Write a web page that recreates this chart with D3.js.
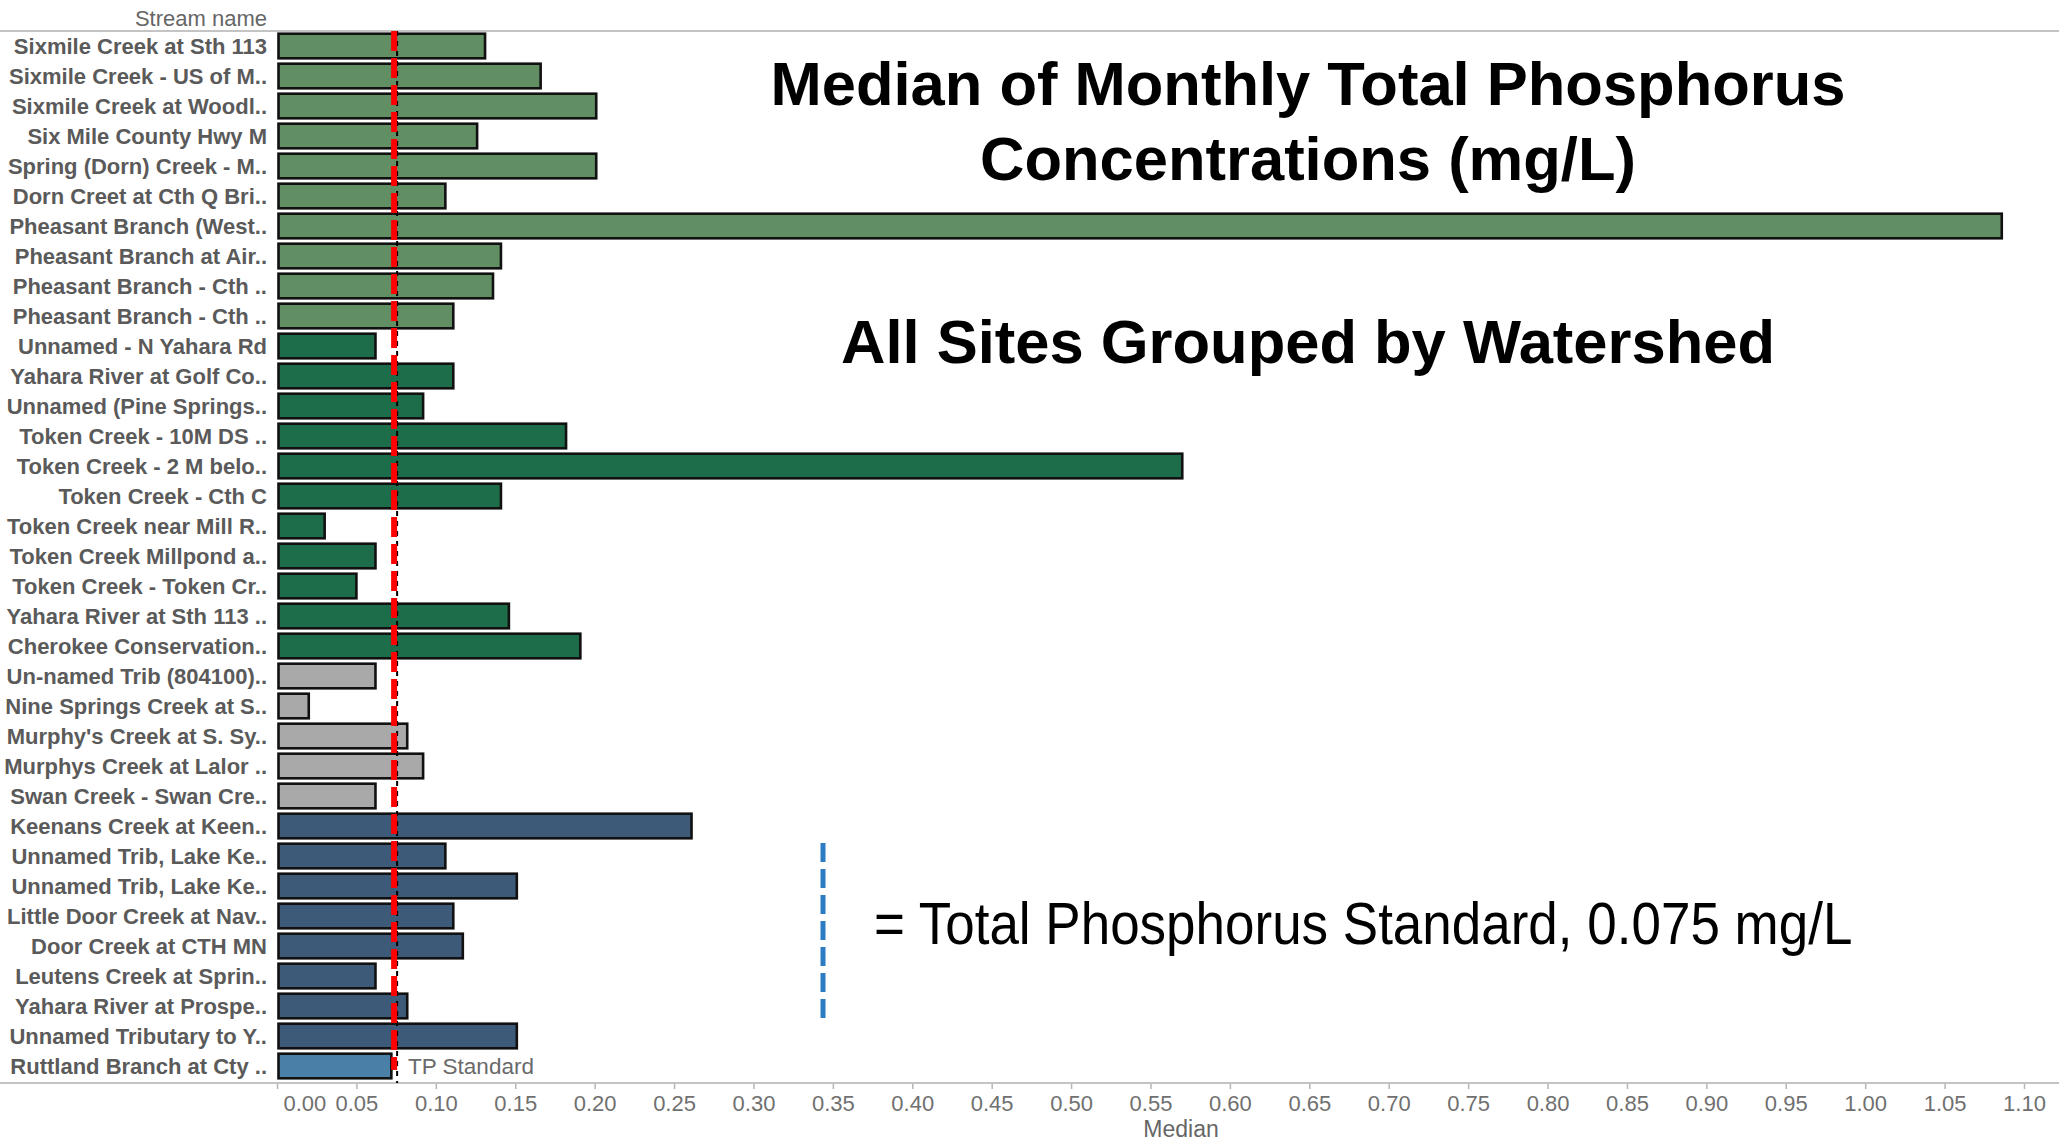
<!DOCTYPE html>
<html>
<head>
<meta charset="utf-8">
<script src="https://cdn.jsdelivr.net/npm/d3@7"></script>
<style>
  html, body { margin: 0; padding: 0; background: #fff; }
  svg { display: block; }
  text { font-family: "Liberation Sans", Arial, sans-serif; }
</style>
</head>
<body>
<svg id="chart" width="2059" height="1143"></svg>
<script>
// ---- data ----
const streams = [
  "Sixmile Creek at Sth 113", "Sixmile Creek - US of M..", "Sixmile Creek at Woodl..",
  "Six Mile County Hwy M", "Spring (Dorn) Creek - M..", "Dorn Creet at Cth Q Bri..",
  "Pheasant Branch (West..", "Pheasant Branch at Air..", "Pheasant Branch - Cth ..",
  "Pheasant Branch - Cth .. ", "Unnamed - N Yahara Rd", "Yahara River at Golf Co..",
  "Unnamed (Pine Springs..", "Token Creek - 10M DS ..", "Token Creek - 2 M belo..",
  "Token Creek - Cth C", "Token Creek near Mill R..", "Token Creek Millpond a..",
  "Token Creek - Token Cr..", "Yahara River at Sth 113 ..", "Cherokee Conservation..",
  "Un-named Trib (804100)..", "Nine Springs Creek at S..", "Murphy's Creek at S. Sy..",
  "Murphys Creek at Lalor ..", "Swan Creek - Swan Cre..", "Keenans Creek at Keen..",
  "Unnamed Trib, Lake Ke..", "Unnamed Trib, Lake Ke.. ", "Little Door Creek at Nav..",
  "Door Creek at CTH MN", "Leutens Creek at Sprin..", "Yahara River at Prospe..",
  "Unnamed Tributary to Y..", "Ruttland Branch at Cty .."
];
const watershed = [
  0,0,0,0,0,0,0,0,0,0,
  1,1,1,1,1,1,1,1,1,1,1,
  2,2,2,2,2,
  3,3,3,3,3,3,3,3,
  4
];
const medians = [
  0.131, 0.166, 0.201, 0.126, 0.201, 0.106, 1.086, 0.141, 0.136, 0.111,
  0.062, 0.111, 0.092, 0.182, 0.570, 0.141, 0.030, 0.062, 0.050, 0.146, 0.191,
  0.062, 0.020, 0.082, 0.092, 0.062,
  0.261, 0.106, 0.151, 0.111, 0.117, 0.062, 0.082, 0.151,
  0.072
];
const watershedColors = ["#628e64", "#1e6d4a", "#a9a9a9", "#3e5a79", "#4a7fa8"];
const tickValues = [0,0.05,0.1,0.15,0.2,0.25,0.3,0.35,0.4,0.45,0.5,0.55,0.6,0.65,0.7,0.75,0.8,0.85,0.9,0.95,1.0,1.05,1.1];
const tpStandard = 0.075;
const titleLines = ["Median of Monthly Total Phosphorus", "Concentrations (mg/L)"];
const subtitle = "All Sites Grouped by Watershed";
const legendText = "= Total Phosphorus Standard, 0.075 mg/L";

// ---- layout ----
const W = 2059, H = 1143;
const svg = d3.select("#chart");
const plotTop = 31, plotBottom = 1081, axisY = 1083;
const x = d3.scaleLinear().domain([0, 1.1]).range([277, 2024]);
const y = d3.scaleBand().domain(streams).range([plotTop, plotBottom]).paddingInner(0.18).paddingOuter(0.09);

// header line
svg.append("line").attr("x1", 0).attr("x2", W).attr("y1", plotTop).attr("y2", plotTop)
  .attr("stroke", "#c4c4c4").attr("stroke-width", 2);
svg.append("text").attr("x", 267).attr("y", 18).attr("text-anchor", "end")
  .attr("dominant-baseline", "central").attr("font-size", 22).attr("fill", "#666")
  .text("Stream name");

// axis
const axis = d3.axisBottom(x).tickValues(tickValues).tickSize(6).tickFormat(d3.format(".2f"));
const gx = svg.append("g").attr("transform", `translate(0,${axisY})`).call(axis);
gx.select(".domain").remove();
gx.selectAll(".tick line").attr("stroke", "#b5b5b5").attr("stroke-width", 1.5);
gx.selectAll(".tick text").attr("font-size", 22).attr("fill", "#707070")
  .attr("font-family", "'Liberation Sans', Arial, sans-serif").attr("dy", "0.85em");
gx.selectAll(".tick text").filter(d => d === 0).attr("text-anchor", "start").attr("dx", 6);
svg.append("line").attr("x1", 0).attr("x2", W).attr("y1", axisY).attr("y2", axisY)
  .attr("stroke", "#c4c4c4").attr("stroke-width", 2);
svg.append("text").attr("x", 1181).attr("y", 1129).attr("text-anchor", "middle")
  .attr("dominant-baseline", "central").attr("font-size", 23).attr("fill", "#666")
  .text("Median");

// bars
svg.append("g").selectAll("rect").data(streams).join("rect")
  .attr("x", x(0) + 1.5)
  .attr("y", d => y(d))
  .attr("width", (d, i) => x(medians[i]) - x(0) - 1.5)
  .attr("height", y.bandwidth())
  .attr("fill", (d, i) => watershedColors[watershed[i]])
  .attr("stroke", "#111").attr("stroke-width", 2.6);

// row labels
svg.append("g").selectAll("text").data(streams).join("text")
  .attr("x", 267).attr("y", d => y(d) + y.bandwidth() / 2)
  .attr("text-anchor", "end").attr("dominant-baseline", "central")
  .attr("font-size", 22).attr("font-weight", "bold").attr("fill", "#5a5a5a")
  .text(d => d.trim());

// reference lines
svg.append("line").attr("x1", x(tpStandard) + 1).attr("x2", x(tpStandard) + 1)
  .attr("y1", plotTop).attr("y2", axisY).attr("stroke", "#000").attr("stroke-width", 2)
  .attr("stroke-dasharray", "5,5");
svg.append("line").attr("x1", x(tpStandard) - 2).attr("x2", x(tpStandard) - 2)
  .attr("y1", plotTop).attr("y2", 1070).attr("stroke", "#ff0000").attr("stroke-width", 6)
  .attr("stroke-dasharray", "20,7");
svg.append("text").attr("x", 408).attr("y", y(streams[streams.length - 1]) + y.bandwidth() / 2)
  .attr("dominant-baseline", "central").attr("font-size", 22.5).attr("fill", "#6a6a6a")
  .text("TP Standard");

// titles
svg.selectAll(".title").data(titleLines).join("text").attr("class", "title")
  .attr("x", 1308).attr("y", (d, i) => 83 + i * 75)
  .attr("text-anchor", "middle").attr("dominant-baseline", "central")
  .attr("font-size", 61.5).attr("font-weight", "bold").attr("fill", "#000")
  .text(d => d);
svg.append("text").attr("x", 1308).attr("y", 341)
  .attr("text-anchor", "middle").attr("dominant-baseline", "central")
  .attr("font-size", 61.5).attr("font-weight", "bold").attr("fill", "#000")
  .text(subtitle);

// legend
svg.append("line").attr("x1", 823).attr("x2", 823).attr("y1", 843).attr("y2", 1019)
  .attr("stroke", "#2b7cc3").attr("stroke-width", 5).attr("stroke-dasharray", "19,7");
svg.append("text").attr("transform", "translate(874,923) scale(1,1.12)")
  .attr("dominant-baseline", "central").attr("font-size", 53).attr("fill", "#000")
  .text(legendText);
</script>
</body>
</html>
